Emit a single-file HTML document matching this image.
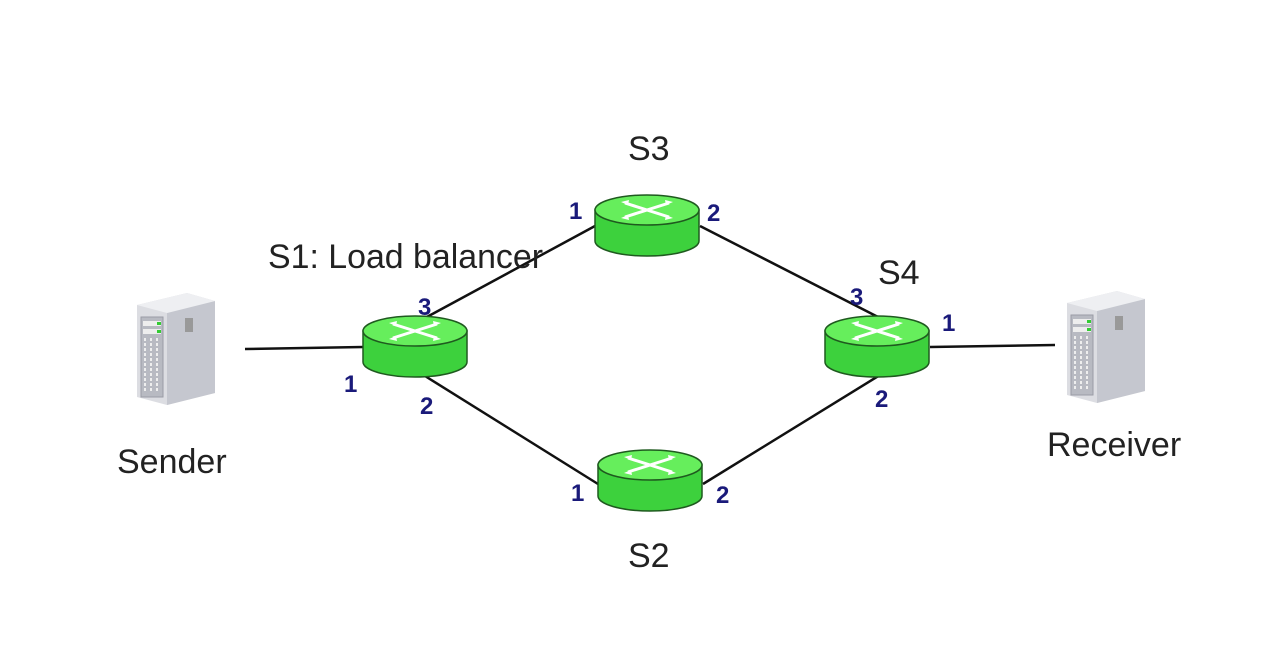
<!DOCTYPE html>
<html><head><meta charset="utf-8"><style>
html,body{margin:0;padding:0;background:#fff;}
svg{display:block;}
text{font-family:"Liberation Sans",sans-serif;}
.h{font-family:"Liberation Sans",sans-serif;font-weight:bold;fill:#1a1a7a;}
</style></head><body>
<svg width="1285" height="671" viewBox="0 0 1285 671">
<defs>
<g id="r">
<path d="M-52,0 L-52,31 A52,15 0 0 0 52,31 L52,0 Z" fill="#3dd13d" stroke="#1f5a1f" stroke-width="1.5"/>
<ellipse cx="0" cy="0" rx="52" ry="15" fill="#66ee5c" stroke="#1f5a1f" stroke-width="1.5"/>
<g stroke="#fff" stroke-width="3" fill="none">
<path d="M-22,-7 L22,7 M-22,7 L22,-7"/>
</g>
<path d="M-26,-8 l8,-2 l-1,5 z M26,8 l-8,2 l1,-5 z M-26,8 l8,2 l-1,-5 z M26,-8 l-8,-2 l1,5 z" fill="#fff"/>
</g>
<g id="srv">
<path d="M0,12 L50,0 L78,8 L78,100 L30,112 L0,104 Z" fill="#dcdde2"/>
<path d="M30,20 L78,8 L78,100 L30,112 Z" fill="#c5c7cf"/>
<path d="M0,12 L50,0 L78,8 L30,20 Z" fill="#eeeff2"/>
<rect x="4" y="24" width="22" height="80" fill="#b8bac2" stroke="#9a9ca5"/>
<rect x="6" y="28" width="18" height="5" fill="#eee"/>
<rect x="6" y="36" width="18" height="5" fill="#eee"/>
<rect x="20" y="29" width="4" height="3" fill="#3c3"/>
<rect x="20" y="37" width="4" height="3" fill="#3c3"/>
<g stroke="#eee" stroke-width="2" stroke-dasharray="3,2"><path d="M8,45 V100 M14,45 V100 M20,45 V100"/></g>
<rect x="48" y="25" width="8" height="14" fill="#999"/>
</g>
</defs>
<g stroke="#111" stroke-width="2.5">
<line x1="245" y1="349" x2="363" y2="347"/>
<line x1="425" y1="318" x2="595" y2="226"/>
<line x1="425" y1="376" x2="598" y2="484"/>
<line x1="700" y1="226" x2="880" y2="318"/>
<line x1="703" y1="484" x2="880" y2="375"/>
<line x1="930" y1="347" x2="1055" y2="345"/>
</g>
<use href="#r" x="415" y="331"/>
<use href="#r" x="647" y="210"/>
<use href="#r" x="650" y="465"/>
<use href="#r" x="877" y="331"/>
<use href="#srv" x="137" y="293"/>
<use href="#srv" x="1067" y="291"/>
<g font-size="34" fill="#222">
<text x="268" y="268" textLength="275" lengthAdjust="spacingAndGlyphs">S1: Load balancer</text>
<text x="628" y="160">S3</text>
<text x="878" y="284">S4</text>
<text x="628" y="567">S2</text>
<text x="117" y="473">Sender</text>
<text x="1047" y="456">Receiver</text>
</g>
<g class="h" font-size="24">
<text x="418" y="315">3</text>
<text x="344" y="392">1</text>
<text x="420" y="414">2</text>
<text x="569" y="219">1</text>
<text x="707" y="221">2</text>
<text x="850" y="305">3</text>
<text x="942" y="331">1</text>
<text x="875" y="407">2</text>
<text x="571" y="501">1</text>
<text x="716" y="503">2</text>
</g>
</svg>
</body></html>
